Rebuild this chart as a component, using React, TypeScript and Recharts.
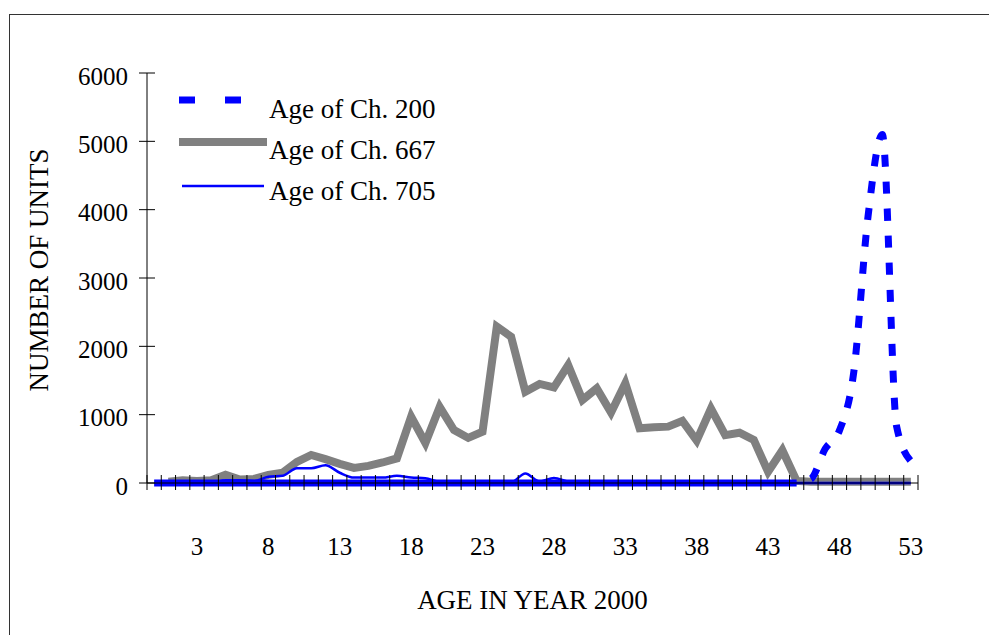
import React from "react";
import { LineChart, Line, XAxis, YAxis, Legend } from "recharts";

const ages = [
  0, 1, 2, 3, 4, 5, 6, 7, 8, 9, 10, 11, 12, 13, 14, 15, 16, 17, 18, 19, 20, 21, 22, 23, 24, 25, 26,
  27, 28, 29, 30, 31, 32, 33, 34, 35, 36, 37, 38, 39, 40, 41, 42, 43, 44, 45, 46, 47, 48, 49, 50, 51,
  52, 53,
];

// Age of Ch. 200
const ch200 = [
  0, 0, 0, 0, 0, 0, 0, 0, 0, 0, 0, 0, 0, 0, 0, 0, 0, 0, 0, 0, 0, 0, 0, 0, 0, 0, 0, 0, 0, 0, 0, 0, 0,
  0, 0, 0, 0, 0, 0, 0, 0, 0, 0, 0, 0, 0, 60, 500, 770, 1620, 3900, 5100, 830, 320,
];

// Age of Ch. 667
const ch667 = [
  null, 20, 40, 30, 40, 120, 50, 60, 120, 150, 310, 410, 350, 280, 220, 250, 300, 360, 970, 585, 1115,
  775, 660, 750, 2290, 2140, 1335, 1450, 1400, 1725, 1215, 1385, 1030, 1460, 800, 815, 825, 910, 620,
  1090, 700, 735, 630, 165, 480, 30, 20, 20, 20, 20, 20, 20, 20, 20,
];

// Age of Ch. 705
const ch705 = [
  null, 0, 0, 0, 0, 40, 40, 30, 90, 105, 215, 215, 260, 150, 80, 80, 80, 105, 80, 70, 20, 20, 10, 10,
  10, 10, 140, 20, 75, 20, 0, 0, 0, 0, 0, 0, 0, 0, 0, 0, 0, 0, 0, 0, 0, 0, 0, 0, 0, 0, 0, 0, 0, 0,
];

const yTicks = [0, 1000, 2000, 3000, 4000, 5000, 6000];
const xLabels = [3, 8, 13, 18, 23, 28, 33, 38, 43, 48, 53];

const seriesNames: Record<string, string> = {
  ch200: "Age of Ch. 200",
  ch667: "Age of Ch. 667",
  ch705: "Age of Ch. 705",
};
const legendOrder = ["ch200", "ch667", "ch705"];

const data = ages.map((age, i) => ({
  age,
  ch200: ch200[i],
  ch667: ch667[i],
  ch705: ch705[i],
}));

const FONT = "'Liberation Serif', 'Times New Roman', serif";
const CHART_W = 989;
const CHART_H = 627;
const MARGIN = { top: 65, right: 79, bottom: 12, left: 0 };
const Y_AXIS_W = 139;
const X_AXIS_H = 140;
const BLUE = "#0000ff";
const GRAY = "#808080";

// points sit in the middle of each category, ticks on the boundaries
const band = (CHART_W - MARGIN.left - MARGIN.right - Y_AXIS_W) / ages.length;
const half = band / 2;

// Excel restarts the dash on each short flat segment, so the zero run looks solid
const flatRun = ch200.findIndex((v) => v > 0) - 1;
const dash200 = [flatRun * band, 15, ...Array(40).fill("12 15")].join(" ");

function AgeTick(props: any) {
  const { x, y, payload } = props;
  const last = payload.value === ages[ages.length - 1];
  return (
    <g>
      <line x1={x - half} x2={x - half} y1={y - 8} y2={y + 7} stroke="#000" />
      {last && <line x1={x + half} x2={x + half} y1={y - 8} y2={y + 7} stroke="#000" />}
      {xLabels.includes(payload.value) && (
        <text x={x} y={y + 63} dy="0.35em" textAnchor="middle" fontFamily={FONT} fontSize={25} fill="#000">
          {payload.value}
        </text>
      )}
    </g>
  );
}

function UnitTick(props: any) {
  const { x, y, payload } = props;
  return (
    <g>
      <line x1={x - 8} x2={x + 8} y1={y} y2={y} stroke="#000" />
      <text x={x - 19} y={y + 3} dy="0.35em" textAnchor="end" fontFamily={FONT} fontSize={25} fill="#000">
        {payload.value}
      </text>
    </g>
  );
}

function XTitle(props: any) {
  const vb = props.viewBox;
  return (
    <text
      x={vb.x + vb.width / 2}
      y={vb.y + 117}
      dy="0.35em"
      textAnchor="middle"
      fontFamily={FONT}
      fontSize={27}
      fill="#000"
    >
      AGE IN YEAR 2000
    </text>
  );
}

function YTitle(props: any) {
  const vb = props.viewBox;
  const cx = vb.x + 31;
  const cy = vb.y + vb.height / 2 - 8;
  return (
    <text
      x={cx}
      y={cy}
      dy="0.35em"
      transform={`rotate(-90 ${cx} ${cy})`}
      textAnchor="middle"
      fontFamily={FONT}
      fontSize={27}
      fill="#000"
    >
      NUMBER OF UNITS
    </text>
  );
}

function LegendBox(props: any) {
  const items = [...(props.payload || [])].sort(
    (a: any, b: any) => legendOrder.indexOf(a.dataKey) - legendOrder.indexOf(b.dataKey)
  );
  return (
    <svg width={300} height={130} style={{ display: "block" }}>
      {items.map((item: any, i: number) => {
        const iconY = [15, 57, 101][i];
        const textY = [33, 74, 115][i];
        let icon;
        if (item.dataKey === "ch200") {
          icon = <line x1={0} x2={88} y1={iconY} y2={iconY} stroke={BLUE} strokeWidth={7} strokeDasharray="16 30" />;
        } else if (item.dataKey === "ch667") {
          icon = <line x1={0} x2={88} y1={iconY} y2={iconY} stroke={GRAY} strokeWidth={8} />;
        } else {
          icon = <line x1={3} x2={85} y1={iconY} y2={iconY} stroke={BLUE} strokeWidth={2.5} />;
        }
        return (
          <g key={item.dataKey}>
            {icon}
            <text x={90} y={textY} fontFamily={FONT} fontSize={27} fill="#000">
              {seriesNames[item.dataKey]}
            </text>
          </g>
        );
      })}
    </svg>
  );
}

export default function App() {
  return (
    <div style={{ position: "relative", width: CHART_W, height: CHART_H, overflow: "hidden", background: "#fff" }}>
      <div
        style={{
          position: "absolute",
          left: 1,
          top: 6,
          width: 1100,
          height: 1000,
          border: "1px solid #333",
        }}
      />
      <div style={{ position: "absolute", left: 0, top: 0 }}>
        <LineChart width={CHART_W} height={CHART_H} data={data} margin={MARGIN}>
          <XAxis
            dataKey="age"
            type="category"
            interval={0}
            height={X_AXIS_H}
            padding={{ left: half, right: half }}
            stroke="#000"
            tickLine={false}
            tickSize={0}
            tickMargin={0}
            tick={<AgeTick />}
            label={XTitle}
          />
          <YAxis
            domain={[0, 6000]}
            ticks={yTicks}
            width={Y_AXIS_W}
            stroke="#000"
            tickLine={false}
            tickSize={0}
            tickMargin={0}
            tick={<UnitTick />}
            label={YTitle}
          />
          <Legend
            layout="vertical"
            align="center"
            verticalAlign="middle"
            content={<LegendBox />}
            wrapperStyle={{ left: 171, top: 77, width: 300, height: 130 }}
          />
          <Line
            dataKey="ch667"
            name={seriesNames.ch667}
            type="linear"
            stroke={GRAY}
            strokeWidth={8}
            dot={false}
            isAnimationActive={false}
          />
          <Line
            dataKey="ch200"
            name={seriesNames.ch200}
            type="monotone"
            stroke={BLUE}
            strokeWidth={7}
            strokeDasharray={dash200}
            dot={false}
            isAnimationActive={false}
          />
          <Line
            dataKey="ch705"
            name={seriesNames.ch705}
            type="monotone"
            stroke={BLUE}
            strokeWidth={2.5}
            dot={false}
            isAnimationActive={false}
          />
        </LineChart>
      </div>
    </div>
  );
}
